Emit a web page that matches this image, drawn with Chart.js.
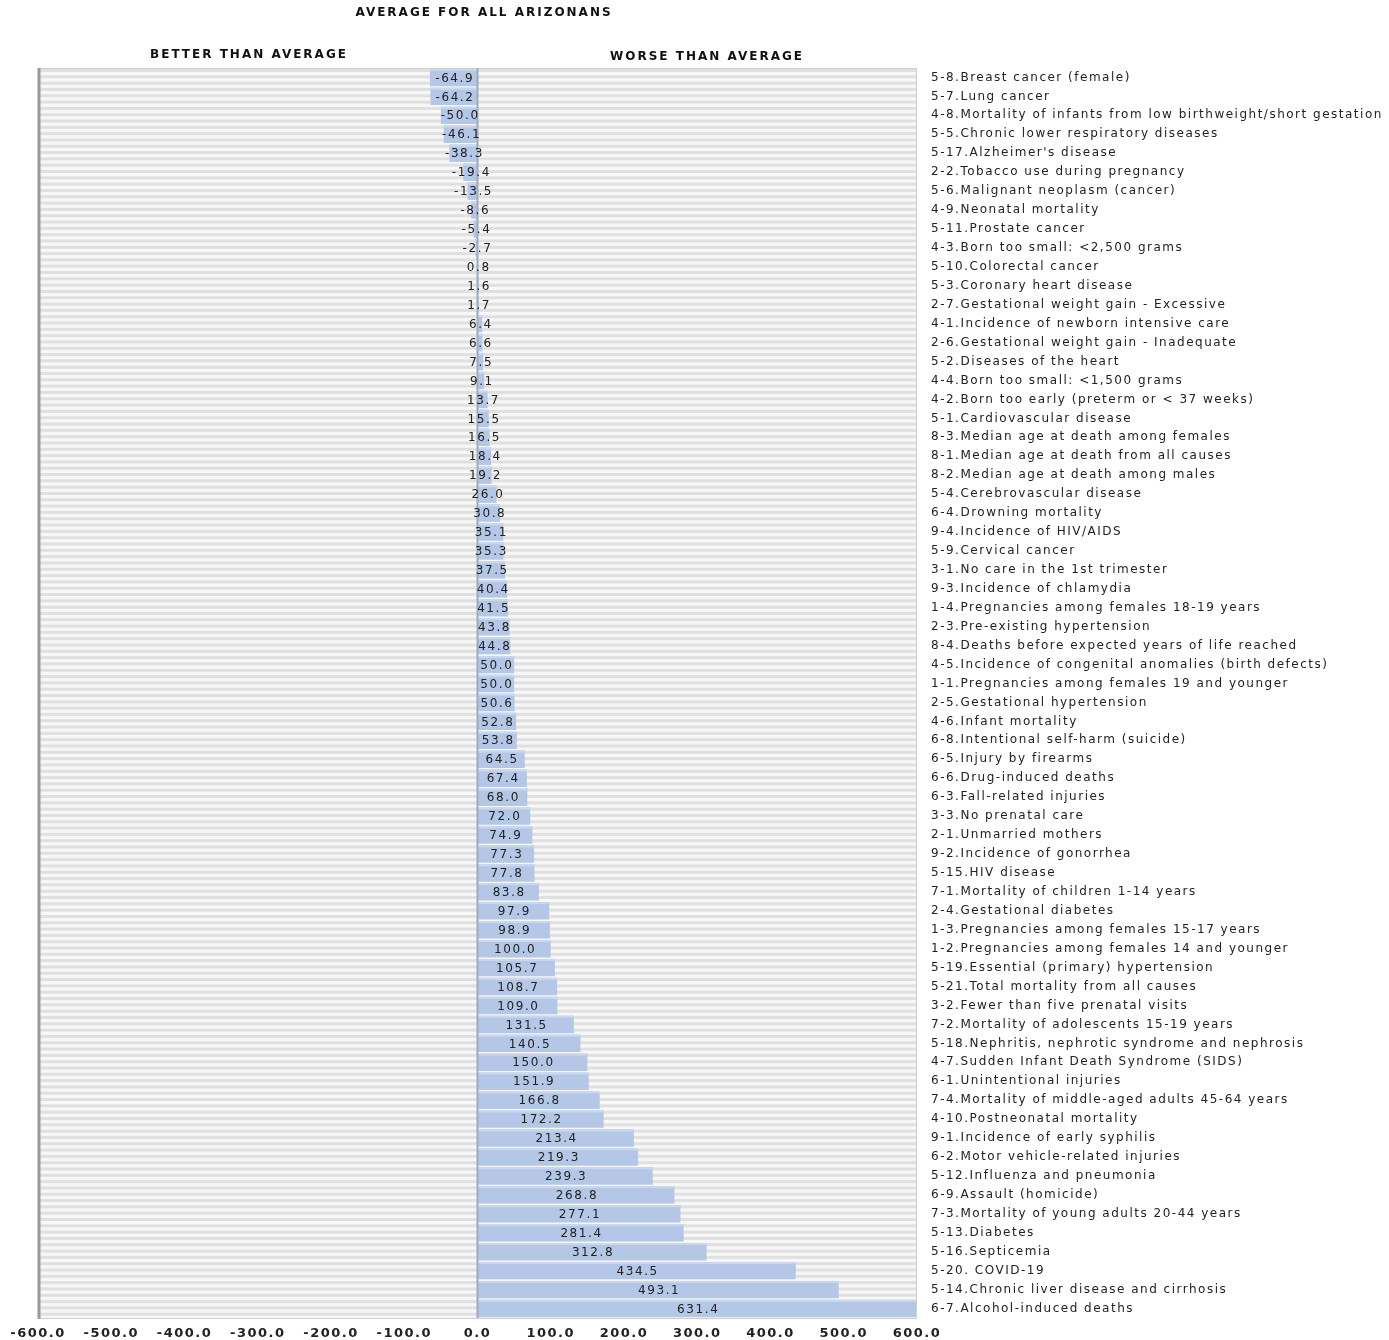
<!DOCTYPE html>
<html>
<head>
<meta charset="utf-8">
<script src="https://cdn.jsdelivr.net/npm/chart.js@4.4.1/dist/chart.umd.min.js"></script>
<style>
  body { margin: 0; background: #fff; }
  #wrap { width: 1389px; height: 1340px; position: relative; }
</style>
</head>
<body>
<div id="wrap"><canvas id="myChart"></canvas></div>
<script>
var measures = [
  "5-8.Breast cancer (female)",
  "5-7.Lung cancer",
  "4-8.Mortality of infants from low birthweight/short gestation",
  "5-5.Chronic lower respiratory diseases",
  "5-17.Alzheimer's disease",
  "2-2.Tobacco use during pregnancy",
  "5-6.Malignant neoplasm (cancer)",
  "4-9.Neonatal mortality",
  "5-11.Prostate cancer",
  "4-3.Born too small: <2,500 grams",
  "5-10.Colorectal cancer",
  "5-3.Coronary heart disease",
  "2-7.Gestational weight gain - Excessive",
  "4-1.Incidence of newborn intensive care",
  "2-6.Gestational weight gain - Inadequate",
  "5-2.Diseases of the heart",
  "4-4.Born too small: <1,500 grams",
  "4-2.Born too early (preterm or < 37 weeks)",
  "5-1.Cardiovascular disease",
  "8-3.Median age at death among females",
  "8-1.Median age at death from all causes",
  "8-2.Median age at death among males",
  "5-4.Cerebrovascular disease",
  "6-4.Drowning mortality",
  "9-4.Incidence of HIV/AIDS",
  "5-9.Cervical cancer",
  "3-1.No care in the 1st trimester",
  "9-3.Incidence of chlamydia",
  "1-4.Pregnancies among females 18-19 years",
  "2-3.Pre-existing hypertension",
  "8-4.Deaths before expected years of life reached",
  "4-5.Incidence of congenital anomalies (birth defects)",
  "1-1.Pregnancies among females 19 and younger",
  "2-5.Gestational hypertension",
  "4-6.Infant mortality",
  "6-8.Intentional self-harm (suicide)",
  "6-5.Injury by firearms",
  "6-6.Drug-induced deaths",
  "6-3.Fall-related injuries",
  "3-3.No prenatal care",
  "2-1.Unmarried mothers",
  "9-2.Incidence of gonorrhea",
  "5-15.HIV disease",
  "7-1.Mortality of children 1-14 years",
  "2-4.Gestational diabetes",
  "1-3.Pregnancies among females 15-17 years",
  "1-2.Pregnancies among females 14 and younger",
  "5-19.Essential (primary) hypertension",
  "5-21.Total mortality from all causes",
  "3-2.Fewer than five prenatal visits",
  "7-2.Mortality of adolescents 15-19 years",
  "5-18.Nephritis, nephrotic syndrome and nephrosis",
  "4-7.Sudden Infant Death Syndrome (SIDS)",
  "6-1.Unintentional injuries",
  "7-4.Mortality of middle-aged adults 45-64 years",
  "4-10.Postneonatal mortality",
  "9-1.Incidence of early syphilis",
  "6-2.Motor vehicle-related injuries",
  "5-12.Influenza and pneumonia",
  "6-9.Assault (homicide)",
  "7-3.Mortality of young adults 20-44 years",
  "5-13.Diabetes",
  "5-16.Septicemia",
  "5-20. COVID-19",
  "5-14.Chronic liver disease and cirrhosis",
  "6-7.Alcohol-induced deaths"
];

var pctDiff = [
  -64.9, -64.2, -50.0, -46.1, -38.3, -19.4, -13.5, -8.6, -5.4, -2.7,
  0.8, 1.6, 1.7, 6.4, 6.6, 7.5, 9.1, 13.7, 15.5, 16.5,
  18.4, 19.2, 26.0, 30.8, 35.1, 35.3, 37.5, 40.4, 41.5, 43.8,
  44.8, 50.0, 50.0, 50.6, 52.8, 53.8, 64.5, 67.4, 68.0, 72.0,
  74.9, 77.3, 77.8, 83.8, 97.9, 98.9, 100.0, 105.7, 108.7, 109.0,
  131.5, 140.5, 150.0, 151.9, 166.8, 172.2, 213.4, 219.3, 239.3, 268.8,
  277.1, 281.4, 312.8, 434.5, 493.1, 631.4
];

var xMin = -600, xMax = 600, xStep = 100;
var titleText = "AVERAGE FOR ALL ARIZONANS";
var betterText = "BETTER THAN AVERAGE";
var worseText = "WORSE THAN AVERAGE";

var FONT = "'DejaVu Sans', Verdana, sans-serif";

// striped background, frame, zero line, value labels, headings
var backdrop = {
  id: 'backdrop',
  beforeDraw: function (chart) {
    chart.ctx.letterSpacing = '1.5px';
  },
  beforeDatasetsDraw: function (chart) {
    var ctx = chart.ctx, a = chart.chartArea;
    var rowH = (a.bottom - a.top) / measures.length;
    var step = rowH / 3;
    ctx.save();
    ctx.fillStyle = '#f7f7f7';
    ctx.fillRect(a.left, a.top, a.right - a.left, a.bottom - a.top);
    ctx.fillStyle = '#e0e0e0';
    for (var y = a.top + 1; y < a.bottom; y += step) {
      ctx.fillRect(a.left, y, a.right - a.left, 3);
    }
    ctx.restore();
  },
  afterDatasetsDraw: function (chart) {
    var ctx = chart.ctx, a = chart.chartArea;
    var xs = chart.scales.x;
    var zero = xs.getPixelForValue(0);
    var meta = chart.getDatasetMeta(0);
    ctx.save();
    // lighter top edge of each bar
    ctx.beginPath();
    ctx.rect(a.left, a.top, a.right - a.left, a.bottom - a.top);
    ctx.clip();
    ctx.fillStyle = '#cad8ef';
    meta.data.forEach(function (bar) {
      var l = Math.min(bar.x, bar.base), r = Math.max(bar.x, bar.base);
      ctx.fillRect(l, bar.y - bar.height / 2, r - l, 2);
    });
    ctx.restore();

    ctx.save();
    ctx.strokeStyle = '#cfcfcf';
    ctx.lineWidth = 1;
    ctx.strokeRect(a.left + 0.5, a.top + 0.5, a.right - a.left - 1, a.bottom - a.top);
    ctx.strokeStyle = '#9a9a9a';
    ctx.lineWidth = 3;
    ctx.beginPath();
    ctx.moveTo(a.left + 1, a.top);
    ctx.lineTo(a.left + 1, a.bottom + 1);
    ctx.stroke();
    ctx.strokeStyle = '#9eabbd';
    ctx.lineWidth = 2;
    ctx.beginPath();
    ctx.moveTo(zero, a.top);
    ctx.lineTo(zero, a.bottom);
    ctx.stroke();

    // value labels centred on the visible part of each bar
    ctx.font = '12px ' + FONT;
    ctx.letterSpacing = '1.6px';
    ctx.fillStyle = '#222';
    ctx.textAlign = 'center';
    ctx.textBaseline = 'middle';
    meta.data.forEach(function (bar, i) {
      var x1 = Math.max(a.left, Math.min(a.right, bar.x));
      var x0 = Math.max(a.left, Math.min(a.right, bar.base));
      ctx.fillText(pctDiff[i].toFixed(1), (x0 + x1) / 2 + 1, bar.y + 1);
    });
    ctx.restore();
  },
  afterDraw: function (chart) {
    var ctx = chart.ctx;
    ctx.save();
    ctx.fillStyle = '#111';
    ctx.textAlign = 'center';
    ctx.textBaseline = 'middle';
    ctx.letterSpacing = '2px';
    ctx.font = 'bold 12px ' + FONT;
    ctx.fillText(titleText, 484, 13);
    ctx.fillText(betterText, 249, 55);
    ctx.fillText(worseText, 707, 57);
    ctx.restore();
  }
};

new Chart(document.getElementById('myChart').getContext('2d'), {
  type: 'bar',
  data: {
    labels: measures,
    datasets: [{
      label: 'Percent difference',
      data: pctDiff,
      backgroundColor: '#b5c7e7',
      borderWidth: 0,
      barPercentage: 0.92,
      categoryPercentage: 1.0
    }]
  },
  options: {
    indexAxis: 'y',
    responsive: true,
    maintainAspectRatio: false,
    animation: false,
    layout: { padding: { top: 68, left: 38, right: 0, bottom: 0 } },
    plugins: {
      legend: { display: false },
      title: { display: false },
      tooltip: { enabled: false }
    },
    scales: {
      x: {
        min: xMin,
        max: xMax,
        grid: { display: false, drawTicks: false },
        border: { display: false },
        afterFit: function (scale) { scale.height = 22; },
        ticks: {
          stepSize: xStep,
          padding: 8,
          maxRotation: 0,
          autoSkip: false,
          color: '#222',
          font: { family: FONT, size: 13, weight: 'bold' },
          callback: function (v) { return Number(v).toFixed(1); }
        }
      },
      y: {
        position: 'right',
        grid: { display: false, drawTicks: false },
        border: { display: false },
        afterFit: function (scale) { scale.width = 472; },
        ticks: {
          padding: 14,
          autoSkip: false,
          color: '#222',
          font: { family: FONT, size: 12 }
        }
      }
    }
  },
  plugins: [backdrop]
});
</script>
</body>
</html>
